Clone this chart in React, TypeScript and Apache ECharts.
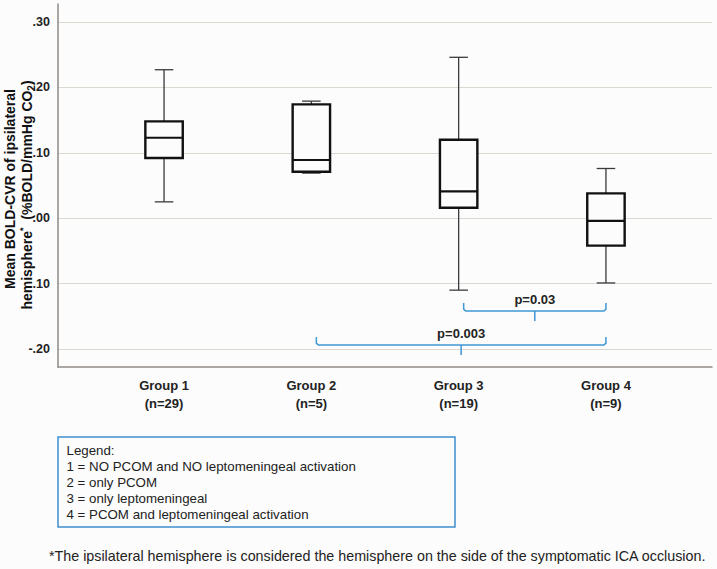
import React, { useEffect, useRef } from 'react';
import * as echarts from 'echarts';

// ---- data ----
const categories = ['Group 1', 'Group 2', 'Group 3', 'Group 4'];
const groupN = ['(n=29)', '(n=5)', '(n=19)', '(n=9)'];
const whiskerLow = [0.025, 0.069, -0.11, -0.099];
const q1 = [0.092, 0.071, 0.016, -0.042];
const median = [0.123, 0.089, 0.041, -0.004];
const q3 = [0.148, 0.174, 0.12, 0.038];
const whiskerHigh = [0.227, 0.179, 0.246, 0.076];

const yTickValues = [-0.2, -0.1, 0, 0.1, 0.2, 0.3];
const yTickLabels = ['-.20', '.10', '.00', '.10', '.20', '.30'];

// comparisons: group positions (1-based) and bracket level
const compFrom = [3, 2];
const compTo = [4, 4];
const compLevel = [-0.142, -0.194];
const compLabels = ['p=0.03', 'p=0.003'];

const legendLines = [
  'Legend:',
  '1 = NO PCOM and NO leptomeningeal activation',
  '2 = only PCOM',
  '3 = only leptomeningeal',
  '4 = PCOM and leptomeningeal activation',
];
const footnote =
  '*The ipsilateral hemisphere is considered the hemisphere on the side of the symptomatic ICA occlusion.';

const FONT = '"Liberation Sans", Arial, Helvetica, sans-serif';
const BG = '#fcfcfc';

export default function App() {
  const ref = useRef<HTMLDivElement>(null);

  useEffect(() => {
    if (!ref.current) return;
    const chart = echarts.init(ref.current, null, { renderer: 'svg' });

    const boxData = categories.map((_, i) => [
      i + 1,
      whiskerLow[i],
      q1[i],
      median[i],
      q3[i],
      whiskerHigh[i],
    ]);
    const compData = compLabels.map((_, i) => [compFrom[i], compTo[i], compLevel[i]]);

    const boxSeries = {
      type: 'custom',
      name: 'box',
      data: boxData,
      encode: { x: 0, y: [1, 2, 3, 4, 5] },
      renderItem: (params: any, api: any) => {
        const x = api.value(0);
        const lo = api.coord([x, api.value(1)]);
        const b1 = api.coord([x, api.value(2)]);
        const md = api.coord([x, api.value(3)]);
        const b3 = api.coord([x, api.value(4)]);
        const hi = api.coord([x, api.value(5)]);
        const half = api.size([0.127, 0])[0];
        const capHalf = api.size([0.063, 0])[0];
        const cx = lo[0];
        const whisk = { stroke: '#3a3a3a', lineWidth: 1.3 };
        return {
          type: 'group',
          children: [
            { type: 'line', shape: { x1: cx, y1: hi[1], x2: cx, y2: b3[1] }, style: whisk },
            { type: 'line', shape: { x1: cx, y1: b1[1], x2: cx, y2: lo[1] }, style: whisk },
            { type: 'line', shape: { x1: cx - capHalf, y1: hi[1], x2: cx + capHalf, y2: hi[1] }, style: whisk },
            { type: 'line', shape: { x1: cx - capHalf, y1: lo[1], x2: cx + capHalf, y2: lo[1] }, style: whisk },
            {
              type: 'rect',
              shape: { x: cx - half, y: b3[1], width: 2 * half, height: b1[1] - b3[1] },
              style: { fill: BG, stroke: '#111111', lineWidth: 2.4 },
            },
            {
              type: 'line',
              shape: { x1: cx - half, y1: md[1], x2: cx + half, y2: md[1] },
              style: { stroke: '#111111', lineWidth: 2.2 },
            },
          ],
        };
      },
    };

    const bracketSeries = {
      type: 'custom',
      name: 'brackets',
      data: compData,
      encode: { x: [0, 1], y: 2 },
      renderItem: (params: any, api: any) => {
        const a = api.coord([api.value(0), api.value(2)]);
        const b = api.coord([api.value(1), api.value(2)]);
        const x0 = a[0] + 5;
        const x1 = b[0];
        const y = a[1];
        const xm = (x0 + x1) / 2;
        const st = { stroke: '#3f97d4', lineWidth: 1.5, fill: 'none' };
        return {
          type: 'group',
          children: [
            {
              type: 'polyline',
              shape: {
                points: [
                  [x0, y - 8],
                  [x0, y - 2],
                  [x0 + 2, y],
                  [x1 - 2, y],
                  [x1, y - 2],
                  [x1, y - 8],
                ],
              },
              style: st,
            },
            { type: 'line', shape: { x1: xm, y1: y, x2: xm, y2: y + 10 }, style: st },
            {
              type: 'text',
              x: xm,
              y: y - 12,
              style: {
                text: compLabels[params.dataIndex],
                fontFamily: FONT,
                fontSize: 13,
                fontWeight: 'bold',
                fill: '#222222',
                align: 'center',
                verticalAlign: 'middle',
              },
            },
          ],
        };
      },
    };

    const graphics: any[] = [
      {
        type: 'text',
        x: 10,
        y: 189,
        rotation: Math.PI / 2,
        style: {
          text: 'Mean BOLD-CVR of ipsilateral',
          fontFamily: FONT,
          fontSize: 14,
          fontWeight: 'bold',
          fill: '#111111',
          align: 'center',
          verticalAlign: 'middle',
        },
      },
      {
        type: 'text',
        x: 27,
        y: 195,
        rotation: Math.PI / 2,
        style: {
          text: '{b|hemisphere}{sup|*}{b|  (%BOLD/mmHg CO}{sub|2}{b|)}',
          fill: '#111111',
          align: 'center',
          verticalAlign: 'middle',
          rich: {
            b: { fontFamily: FONT, fontSize: 14, fontWeight: 'bold', fill: '#111111', lineHeight: 18 },
            sup: { fontFamily: FONT, fontSize: 9, fontWeight: 'bold', fill: '#111111', verticalAlign: 'top' },
            sub: { fontFamily: FONT, fontSize: 10, fontWeight: 'bold', fill: '#111111', verticalAlign: 'bottom' },
          },
        },
      },
      {
        type: 'rect',
        shape: { x: 58, y: 437, width: 397, height: 90 },
        style: { fill: 'none', stroke: '#3d8fd1', lineWidth: 1.5 },
      },
      ...legendLines.map((t, i) => ({
        type: 'text',
        x: 66.5,
        y: 450.7 + i * 15.85,
        style: {
          text: t,
          fontFamily: FONT,
          fontSize: 13.3,
          fill: '#222222',
          align: 'left',
          verticalAlign: 'middle',
        },
      })),
      {
        type: 'text',
        x: 49,
        y: 556,
        style: {
          text: footnote,
          fontFamily: FONT,
          fontSize: 14.3,
          fill: '#222222',
          align: 'left',
          verticalAlign: 'middle',
        },
      },
    ];

    chart.setOption({
      animation: false,
      backgroundColor: BG,
      grid: { left: 58, right: 5, top: 4, bottom: 202, containLabel: false },
      xAxis: {
        type: 'value',
        min: 0.28,
        max: 4.72,
        axisLine: { show: true, onZero: false, lineStyle: { color: '#8f8a86', width: 1.5 } },
        axisTick: { show: false },
        splitLine: { show: false },
        axisLabel: {
          customValues: [1, 2, 3, 4],
          margin: 9,
          fontFamily: FONT,
          fontSize: 13,
          fontWeight: 'bold',
          color: '#222222',
          lineHeight: 18.5,
          formatter: (v: number) => {
            const i = Math.round(v) - 1;
            return i >= 0 && i < categories.length ? categories[i] + '\n' + groupN[i] : '';
          },
        },
      },
      yAxis: {
        type: 'value',
        min: -0.2275,
        max: 0.3275,
        axisLine: { show: true, onZero: false, lineStyle: { color: '#8f8a86', width: 1.5 } },
        axisTick: { show: false },
        axisLabel: {
          showMinLabel: false,
          showMaxLabel: false,
          margin: 8,
          fontFamily: FONT,
          fontSize: 12.5,
          fontWeight: 'bold',
          color: '#222222',
          formatter: (v: number) => {
            const i = yTickValues.findIndex((t) => Math.abs(t - v) < 1e-6);
            return i >= 0 ? yTickLabels[i] : '';
          },
        },
        splitLine: {
          show: true,
          showMinLine: false,
          showMaxLine: false,
          lineStyle: { color: '#ddd7d2', width: 1.2 },
        },
      },
      series: [boxSeries, bracketSeries],
      graphic: graphics,
    });

    return () => chart.dispose();
  }, []);

  return (
    <div
      ref={ref}
      style={{ position: 'absolute', left: 0, top: 0, width: 717, height: 569 }}
    />
  );
}
